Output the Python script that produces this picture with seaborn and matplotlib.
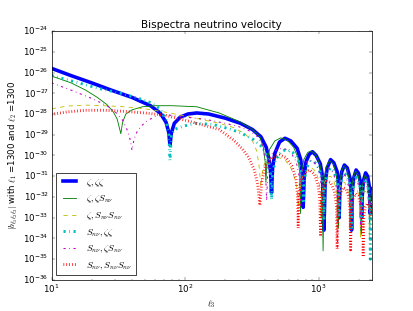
import numpy as np
import pandas as pd
import matplotlib
matplotlib.use("Agg")
import matplotlib.pyplot as plt
import seaborn as sns
from matplotlib.ticker import NullLocator

plt.style.use('classic')

# multipole ell_3 and log10 |b|, one pair of lists per curve
ell_zzz = [10, 14, 20, 28, 40, 55, 65, 72, 75.5, 77, 79, 83, 92, 105, 122, 150, 200, 260, 320, 370,
           405, 425, 437, 444, 452, 470, 510, 560, 620, 690, 735, 755, 767, 780, 805, 850, 900, 960,
           1030, 1070, 1096, 1120, 1160, 1230, 1300, 1380, 1410, 1426, 1445, 1490, 1560, 1640, 1720,
           1750, 1766, 1785, 1830, 1910, 1990, 2060, 2085, 2098, 2120, 2170, 2250, 2330, 2400, 2420,
           2432, 2445, 2500]
logb_zzz = [-25.8, -26.15, -26.5, -26.85, -27.2, -27.6, -27.95, -28.4, -28.9, -29.5, -28.9, -28.45,
            -28.15, -28.0, -27.95, -28.0, -28.2, -28.45, -28.75, -29.1, -29.6, -30.2, -30.8, -31.8,
            -30.6, -29.9, -29.35, -29.17, -29.3, -29.65, -30.2, -30.9, -32.5, -31.0, -30.3, -29.95,
            -29.82, -30.0, -30.4, -31.0, -33.6, -31.3, -30.6, -30.2, -30.35, -30.8, -31.4, -33.0,
            -31.5, -30.8, -30.46, -30.6, -31.1, -31.7, -33.6, -31.8, -31.1, -30.7, -30.85, -31.3,
            -31.9, -33.0, -32.0, -31.2, -30.84, -31.0, -31.5, -32.0, -32.8, -32.0, -31.6]

ell_zzs = [10, 14, 18, 22, 26, 29, 31, 33, 34, 36, 40, 48, 60, 80, 122, 180, 257, 320, 363, 385,
           398, 403, 410, 430, 470, 520, 580, 650, 700, 722, 733, 745, 775, 830, 880, 950, 1020,
           1060, 1081, 1100, 1140, 1210, 1290, 1350, 1390, 1410, 1430, 1480, 1550, 1630, 1700, 1730,
           1745, 1760, 1810, 1890, 1970, 2040, 2068, 2080, 2095, 2150, 2230, 2310, 2380, 2405, 2415,
           2430, 2500]
logb_zzs = [-26.17, -26.5, -26.85, -27.2, -27.55, -27.9, -28.25, -28.95, -28.4, -28.0, -27.8, -27.65,
            -27.6, -27.6, -27.65, -27.95, -28.37, -28.75, -29.1, -29.6, -30.3, -31.3, -30.3, -29.7,
            -29.3, -29.15, -29.25, -29.6, -30.1, -30.8, -32.8, -30.9, -30.2, -29.85, -29.78, -29.95,
            -30.4, -31.0, -34.6, -31.2, -30.55, -30.25, -30.4, -30.85, -31.5, -33.5, -31.5, -30.8,
            -30.5, -30.65, -31.2, -31.8, -33.5, -31.8, -31.1, -30.75, -30.9, -31.4, -32.0, -33.8,
            -32.0, -31.3, -30.95, -31.1, -31.7, -32.3, -33.5, -32.3, -31.7]

ell_szz = [10, 15, 22, 33, 45, 55, 65, 72, 75.5, 77, 79, 83, 95, 120, 160, 210, 260, 320, 380, 420,
           437, 444, 452, 475, 530, 580, 640, 700, 745, 760, 767, 780, 810, 870, 930, 1000, 1060,
           1085, 1096, 1110, 1150, 1220, 1300, 1380, 1412, 1426, 1440, 1490, 1560, 1640, 1720, 1752,
           1766, 1780, 1830, 1910, 1990, 2060, 2085, 2098, 2112, 2170, 2250, 2330, 2400, 2425, 2440,
           2460, 2500]
logb_szz = [-26.15, -26.45, -26.75, -27.0, -27.25, -27.45, -27.75, -28.3, -29.0, -30.25, -29.0, -28.75,
            -28.6, -28.45, -28.5, -28.7, -28.9, -29.2, -29.6, -30.2, -30.9, -32.15, -30.9, -30.2,
            -29.8, -29.7, -29.85, -30.2, -30.8, -31.3, -32.3, -31.3, -30.6, -30.3, -30.3, -30.6,
            -31.1, -31.7, -33.1, -31.7, -30.9, -30.6, -30.75, -31.2, -31.8, -33.0, -31.8, -31.1,
            -30.85, -31.0, -31.4, -32.0, -33.6, -32.0, -31.4, -31.05, -31.2, -31.6, -32.2, -33.3,
            -32.2, -31.5, -31.2, -31.4, -32.0, -33.0, -35.0, -33.0, -32.3]

ell_szs = [10, 14, 20, 26, 30, 34, 37, 39, 40, 41.5, 44, 50, 60, 75, 100, 140, 200, 250, 300, 350,
           380, 398, 408, 418, 440, 490, 550, 620, 680, 715, 728, 742, 780, 850, 920, 1000, 1040,
           1052, 1065, 1100, 1170, 1250, 1330, 1372, 1387, 1402, 1450, 1520, 1600, 1680, 1706, 1718,
           1732, 1790, 1870, 1950, 2030, 2050, 2060, 2072, 2130, 2210, 2290, 2370, 2392, 2402, 2415,
           2500]
logb_szs = [-26.5, -26.85, -27.25, -27.6, -27.9, -28.3, -28.8, -29.3, -29.75, -29.2, -28.8, -28.4,
            -28.1, -28.05, -28.15, -28.25, -28.45, -28.6, -28.8, -29.1, -29.5, -30.2, -32.2, -30.5,
            -29.95, -29.7, -29.65, -29.85, -30.3, -31.0, -32.5, -31.0, -30.4, -30.2, -30.3, -30.65,
            -31.2, -33.3, -31.3, -30.85, -30.6, -30.7, -31.1, -31.8, -34.5, -31.8, -31.2, -30.9,
            -31.0, -31.5, -32.1, -33.5, -32.1, -31.4, -31.1, -31.2, -31.7, -32.3, -33.5, -32.3,
            -31.6, -31.3, -31.5, -32.0, -32.5, -33.0, -32.5, -31.9]

ell_zss = [10, 13, 18, 25, 35, 50, 70, 100, 130, 180, 230, 280, 320, 345, 358, 370, 382, 400, 440,
           500, 560, 620, 670, 695, 705, 716, 750, 820, 890, 960, 1010, 1030, 1040, 1052, 1090, 1160,
           1230, 1300, 1355, 1372, 1380, 1390, 1430, 1500, 1570, 1650, 1700, 1712, 1720, 1730, 1780,
           1860, 1940, 2010, 2045, 2060, 2075, 2130, 2210, 2300, 2370, 2392, 2400, 2410, 2500]
logb_zss = [-27.75, -27.62, -27.57, -27.6, -27.65, -27.75, -27.9, -28.1, -28.25, -28.45, -28.65,
            -28.95, -29.3, -29.8, -30.5, -31.5, -30.6, -30.3, -30.15, -30.1, -30.2, -30.6, -31.2,
            -31.8, -32.5, -31.8, -31.1, -30.7, -30.6, -30.8, -31.3, -31.9, -33.0, -31.9, -31.4,
            -31.05, -31.0, -31.2, -31.7, -32.2, -33.5, -32.2, -31.6, -31.3, -31.3, -31.6, -32.1,
            -32.6, -33.5, -32.6, -31.9, -31.5, -31.6, -32.0, -32.5, -34.0, -32.5, -32.0, -31.7,
            -31.8, -32.3, -32.8, -34.0, -32.8, -32.2]

ell_sss = [10, 13, 18, 25, 35, 50, 70, 100, 140, 180, 230, 270, 300, 330, 350, 363, 376, 400, 450,
           510, 570, 630, 675, 695, 703, 712, 740, 800, 860, 930, 990, 1020, 1035, 1050, 1090, 1160,
           1230, 1310, 1360, 1377, 1395, 1440, 1520, 1600, 1680, 1720, 1738, 1756, 1810, 1890, 1980,
           2080, 2140, 2158, 2180, 2240, 2330, 2420, 2500]
logb_sss = [-28.02, -27.9, -27.82, -27.82, -27.87, -27.95, -28.05, -28.3, -28.55, -28.75, -29.25,
            -29.7, -30.1, -30.7, -31.4, -32.4, -31.2, -30.5, -30.1, -29.98, -30.1, -30.5, -31.1,
            -31.9, -33.5, -31.9, -31.2, -30.8, -30.7, -30.9, -31.4, -32.1, -33.9, -32.1, -31.6,
            -31.25, -31.3, -31.7, -32.4, -34.5, -32.4, -31.9, -31.55, -31.6, -32.0, -32.7, -34.55,
            -32.7, -32.1, -31.85, -31.95, -32.4, -33.0, -34.9, -33.0, -32.5, -32.3, -32.5, -32.9]

labels = [r'$\zeta,\zeta\zeta$', r'$\zeta,\zeta S_{n\nu}$', r'$\zeta,S_{n\nu}S_{n\nu}$',
          r'$S_{n\nu},\zeta\zeta$', r'$S_{n\nu},\zeta S_{n\nu}$', r'$S_{n\nu},S_{n\nu}S_{n\nu}$']

curves = [(ell_zzz, logb_zzz, 'b', '-', 5),
          (ell_zzs, logb_zzs, 'g', '-', 1.2),
          (ell_zss, logb_zss, 'y', '--', 1.2),
          (ell_szz, logb_szz, 'c', '-.', 4),
          (ell_szs, logb_szs, 'm', '-.', 1.5),
          (ell_sss, logb_sss, 'r', ':', 4)]

fig, ax = plt.subplots(figsize=(8, 6.025), dpi=51.625)

for (ell, logb, col, ls, lw), lab in zip(curves, labels):
    df = pd.DataFrame({'ell3': ell, 'b': 10 ** np.array(logb)})
    sns.lineplot(data=df, x='ell3', y='b', ax=ax, color=col, linestyle=ls, linewidth=lw,
                 label=lab, sort=False, estimator=None)

ax.set_xscale('log')
ax.set_yscale('log')
ax.set_xlim(10, 2500)
ax.set_ylim(1e-36, 1e-24)
ax.set_yticks([10.0 ** k for k in range(-36, -23)])
ax.yaxis.set_minor_locator(NullLocator())
ax.set_xlabel(r'$\ell_3$')
ax.set_ylabel(r'$|b_{\ell_1\ell_2\ell_3}|$ with $\ell_1$ =1300 and $\ell_2$ =1300')
ax.set_title('Bispectra neutrino velocity')
ax.legend(loc='lower left', fontsize=13)

fig.savefig('out.png', dpi=51.625)
